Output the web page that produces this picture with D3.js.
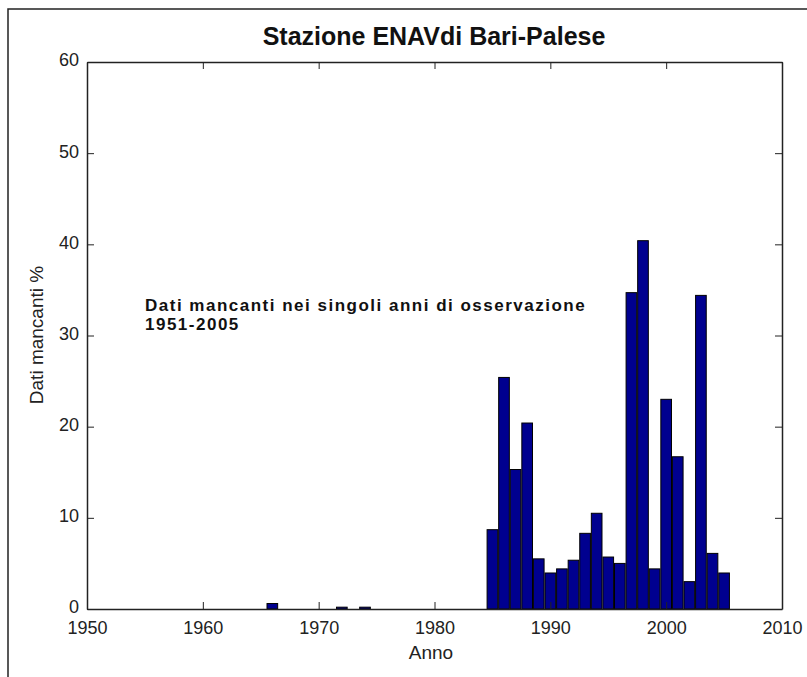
<!DOCTYPE html>
<html>
<head>
<meta charset="utf-8">
<script src="https://cdn.jsdelivr.net/npm/d3@7"></script>
<style>
  body { margin: 0; background: #fff; }
  text { font-family: "Liberation Sans", Arial, sans-serif; }
</style>
</head>
<body>
<svg id="chart" width="807" height="677"></svg>
<script>
// anni di osservazione e dati mancanti (%)
var years = d3.range(1951, 2006);
var missing = [
  0, 0, 0, 0, 0, 0, 0, 0, 0, 0,          // 1951-1960
  0, 0, 0, 0, 0, 0.6, 0, 0, 0, 0,        // 1961-1970
  0, 0.2, 0, 0.2, 0, 0, 0, 0, 0, 0,      // 1971-1980
  0, 0, 0, 0, 8.7, 25.4, 15.3, 20.4, 5.5, 3.95, // 1981-1990
  4.4, 5.35, 8.3, 10.5, 5.7, 5.0, 34.7, 40.4, 4.4, 23.0, // 1991-2000
  16.7, 3.0, 34.4, 6.1, 3.95             // 2001-2005
];
var xTicks = [1950, 1960, 1970, 1980, 1990, 2000, 2010];
var yTicks = [0, 10, 20, 30, 40, 50, 60];

var margin = { top: 62, right: 25, bottom: 68, left: 87 },
  width = 807 - margin.left - margin.right,
  height = 677 - margin.top - margin.bottom;

var svg = d3.select("#chart");

// cornice della figura
svg.append("path")
  .attr("d", "M8,677 L8,9 L807,9")
  .attr("fill", "none")
  .attr("stroke", "#222")
  .attr("stroke-width", 1.5);

var chart = svg.append("g")
  .attr("transform", "translate(" + margin.left + "," + margin.top + ")");

var x = d3.scaleLinear().domain([1950, 2010]).range([0, width]);
var y = d3.scaleLinear().domain([0, 60]).range([height, 0]);

// barre
var bw = x(1951) - x(1950);
chart.selectAll(".bar")
  .data(years.map(function (d, i) { return { year: d, value: missing[i] }; })
    .filter(function (d) { return d.value > 0; }))
  .enter()
  .append("rect")
  .attr("class", "bar")
  .attr("x", function (d) { return x(d.year) - bw * 0.46; })
  .attr("width", bw * 0.92)
  .attr("y", function (d) { return y(d.value); })
  .attr("height", function (d) { return height - y(d.value); })
  .attr("fill", "#00008f")
  .attr("stroke", "#000")
  .attr("stroke-width", 1);

// assi (tick interni, box completo)
var tickLen = 7;
chart.append("g")
  .attr("class", "xaxis")
  .attr("transform", "translate(0," + height + ")")
  .call(d3.axisBottom(x).tickValues(xTicks).tickFormat(d3.format("d"))
    .tickSizeInner(-tickLen).tickSizeOuter(0).tickPadding(tickLen + 5));
chart.append("g")
  .call(d3.axisTop(x).tickValues(xTicks).tickFormat("")
    .tickSizeInner(-tickLen).tickSizeOuter(0));
chart.append("g")
  .attr("class", "yaxis")
  .call(d3.axisLeft(y).tickValues(yTicks)
    .tickSizeInner(-tickLen).tickSizeOuter(0).tickPadding(tickLen + 1));
chart.append("g")
  .attr("transform", "translate(" + width + ",0)")
  .call(d3.axisRight(y).tickValues(yTicks).tickFormat("")
    .tickSizeInner(-tickLen).tickSizeOuter(0));

chart.selectAll(".domain").attr("stroke", "#222").attr("stroke-width", 1.5);
chart.selectAll(".tick line").attr("stroke", "#222");
chart.selectAll(".tick text")
  .style("font-family", "'Liberation Sans', Arial, sans-serif")
  .style("font-size", "18px")
  .attr("fill", "#222");
chart.selectAll(".yaxis .tick text").attr("dy", "0.22em");

// titolo ed etichette
svg.append("text")
  .attr("x", 434)
  .attr("y", 45)
  .attr("text-anchor", "middle")
  .style("font-size", "25px")
  .style("font-weight", "bold")
  .attr("fill", "#111")
  .text("Stazione ENAVdi Bari-Palese");

svg.append("text")
  .attr("x", 431)
  .attr("y", 659)
  .attr("text-anchor", "middle")
  .style("font-size", "19px")
  .attr("fill", "#222")
  .text("Anno");

svg.append("text")
  .attr("transform", "translate(43,335) rotate(-90)")
  .attr("text-anchor", "middle")
  .style("font-size", "19px")
  .attr("fill", "#222")
  .text("Dati mancanti %");

var note = svg.append("text")
  .style("font-size", "17px")
  .style("font-weight", "bold")
  .style("letter-spacing", "1.5px")
  .attr("fill", "#111");
note.append("tspan").attr("x", 145).attr("y", 311)
  .text("Dati mancanti nei singoli anni di osservazione");
note.append("tspan").attr("x", 145).attr("y", 330)
  .text("1951-2005");
</script>
</body>
</html>
